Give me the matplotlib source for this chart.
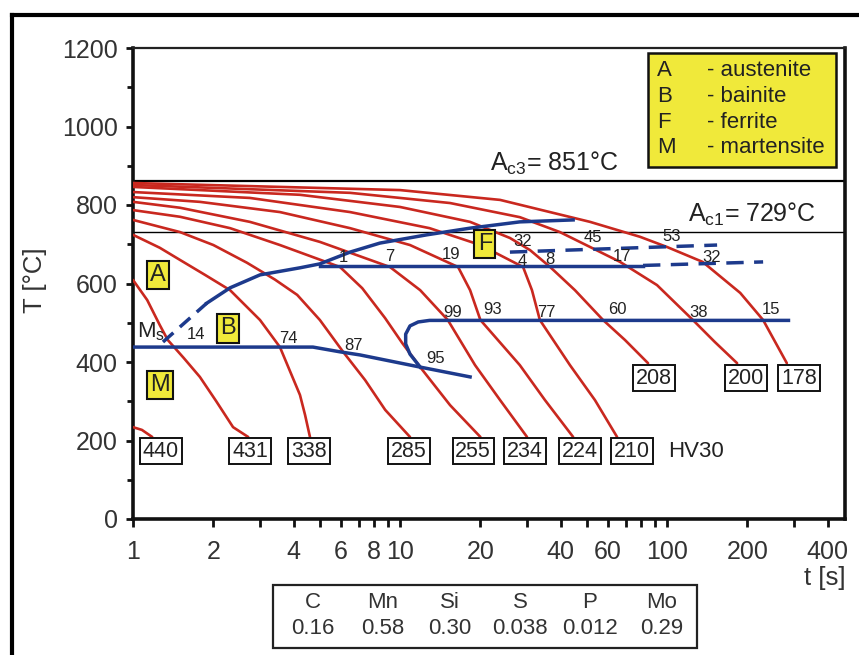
import numpy as np
import matplotlib
matplotlib.use("Agg")
import matplotlib.pyplot as plt
from matplotlib.patches import Rectangle
from matplotlib.lines import Line2D

plt.rcParams['font.family'] = ['Liberation Sans', 'DejaVu Sans']
plt.rcParams['mathtext.fontset'] = 'custom'
plt.rcParams['mathtext.rm'] = 'Liberation Sans'
plt.rcParams['mathtext.it'] = 'Liberation Sans'

# ---------------- data ----------------
# cooling curves: time [s] and temperature [°C]; named by final hardness HV30
t_hv440 = [1.0, 1.08, 1.18]
T_hv440 = [234, 227, 209]
t_hv431 = [1.0, 1.13, 1.26, 1.35, 1.55, 1.78, 2.05, 2.37, 2.70]
T_hv431 = [609, 558, 494, 456, 410, 362, 300, 234, 209]
t_hv338 = [1.0, 1.26, 1.50, 1.86, 2.31, 2.99, 3.55, 4.22, 4.41, 4.60]
T_hv338 = [724, 691, 660, 622, 583, 507, 438, 316, 265, 209]
t_hv285 = [1.0, 1.5, 2.0, 2.67, 3.4, 4.12, 5.01, 6.12, 7.4, 8.8, 10.9]
T_hv285 = [762, 731, 698, 653, 610, 571, 507, 426, 354, 278, 209]
t_hv255 = [1.0, 1.50, 2.31, 3.55, 5.96, 7.22, 8.79, 10.2, 11.9, 15.4, 20.0]
T_hv255 = [787, 770, 741, 698, 642, 588, 512, 448, 387, 290, 209]
t_hv234 = [1.0, 1.50, 2.74, 5.01, 9.17, 11.9, 15.1, 19.1, 23.7, 29.9]
T_hv234 = [808, 793, 757, 706, 642, 583, 507, 392, 303, 209]
t_hv224 = [1.0, 1.78, 3.55, 6.50, 10.9, 16.5, 18.3, 20.0, 28.1, 34.9, 44.5]
T_hv224 = [820, 808, 782, 741, 698, 642, 583, 507, 392, 303, 209]
t_hv210 = [1.0, 2.74, 6.50, 12.9, 20.0, 28.9, 31.2, 33.4, 43.3, 53.7, 65.0]
T_hv210 = [833, 818, 782, 741, 698, 642, 583, 507, 392, 303, 209]
t_hv208 = [1.0, 4.22, 10.0, 18.3, 25.8, 30.7, 36.5, 45.2, 57.6, 69.6, 84.9]
T_hv208 = [846, 826, 795, 757, 716, 685, 642, 583, 507, 456, 397]
t_hv200 = [1.0, 6.50, 15.4, 28.1, 39.7, 51.5, 66.7, 91.7, 125, 151, 183]
T_hv200 = [851, 831, 805, 769, 731, 693, 655, 596, 507, 451, 397]
t_hv178 = [1.0, 10.0, 23.7, 51.5, 79.2, 100, 136, 188, 229, 281]
T_hv178 = [856, 838, 813, 757, 719, 693, 655, 576, 507, 397]

# transformation lines
t_fstart_dash = [1.295, 1.89]
T_fstart_dash = [451, 550]
t_fstart = [1.89, 2.31, 2.99, 4.22, 5.01, 6.50, 8.41, 12.6, 18.3, 28.1, 44.5]
T_fstart = [550, 589, 622, 640, 650, 680, 703, 724, 741, 757, 762]
t_ffinish = [5.0, 81.3]
T_ffinish = [645, 645]
t_ffinish_dash = [81.3, 229]
T_ffinish_dash = [646, 655]
t_pstart_dash = [25.8, 154]
T_pstart_dash = [680, 698]
t_bainite = [285, 12.9, 11.7, 10.9, 10.5, 10.5, 10.9, 11.9]
T_bainite = [506, 506, 502, 492, 471, 446, 420, 387]
t_ms = [1.0, 4.72, 5.95, 7.08, 11.9, 18.3]
T_ms = [438, 438, 426, 418, 387, 362]

AC3_LINE = 862
AC1_LINE = 731

hardness = ['440', '431', '338', '285', '255', '234', '224', '210', '208', '200', '178']
percent_labels = ['14', '74', '87', '95', '1', '7', '19', '32', '4', '8', '45', '17', '53', '32',
                  '99', '93', '77', '60', '38', '15']

comp_elements = ['C', 'Mn', 'Si', 'S', 'P', 'Mo']
comp_values = ['0.16', '0.58', '0.30', '0.038', '0.012', '0.29']

legend_letters = ['A', 'B', 'F', 'M']
legend_names = ['- austenite', '- bainite', '- ferrite', '- martensite']

x_ticks = [1, 2, 4, 6, 8, 10, 20, 40, 60, 100, 200, 400]
x_minor = [3, 5, 7, 9, 30, 50, 70, 80, 90, 300]
y_ticks = [0, 200, 400, 600, 800, 1000, 1200]

# ---------------- layout / style ----------------
RED = '#c9281f'
BLUE = '#1d3a8c'
YELLOW = '#f0e93a'
TXT = '#222222'

W, H = 859, 655
fig = plt.figure(figsize=(W / 100, H / 100), dpi=100)
ax = fig.add_axes([133 / W, 1 - 519 / H, (845 - 133) / W, (519 - 48) / H])
ax.set_xscale('log')
ax.set_xlim(1, 464)
ax.set_ylim(0, 1200)

# red cooling curves
curves = [(t_hv440, T_hv440), (t_hv431, T_hv431), (t_hv338, T_hv338), (t_hv285, T_hv285),
          (t_hv255, T_hv255), (t_hv234, T_hv234), (t_hv224, T_hv224), (t_hv210, T_hv210),
          (t_hv208, T_hv208), (t_hv200, T_hv200), (t_hv178, T_hv178)]
for tt, TT in curves:
    ax.plot(tt, TT, color=RED, lw=1.9, solid_capstyle='round', solid_joinstyle='round', zorder=3)

# Ac lines
ax.axhline(AC3_LINE, color='black', lw=1.6, zorder=2)
ax.axhline(AC1_LINE, color='black', lw=1.0, zorder=2)

# blue transformation lines
blw = 2.5
ax.plot(t_fstart, T_fstart, color=BLUE, lw=blw, zorder=4, solid_joinstyle='round')
ax.plot(t_fstart_dash, T_fstart_dash, color=BLUE, lw=blw, ls=(0, (4, 2.5)), zorder=4)
ax.plot(t_ffinish, T_ffinish, color=BLUE, lw=blw, zorder=4)
ax.plot(t_ffinish_dash, T_ffinish_dash, color=BLUE, lw=blw, ls=(0, (5, 3)), zorder=4)
ax.plot(t_pstart_dash, T_pstart_dash, color=BLUE, lw=blw, ls=(0, (5, 3)), zorder=4)
ax.plot(t_bainite, T_bainite, color=BLUE, lw=blw, zorder=4, solid_joinstyle='round')
ax.plot(t_ms, T_ms, color=BLUE, lw=blw, zorder=4, solid_joinstyle='round')

# hardness boxes
hv_pos = [(1.273, 173), (2.74, 173), (4.56, 173), (10.8, 173), (18.8, 173), (29.4, 173),
          (47.2, 173), (73.9, 173), (89.4, 359), (198, 359), (312, 359)]
for lab, (tx, ty) in zip(hardness, hv_pos):
    ax.text(tx, ty, lab, ha='center', va='center', fontsize=15.5, color=TXT, zorder=6,
            bbox=dict(boxstyle='square,pad=0.13', fc='white', ec='#111111', lw=1.4))
ax.text(100.9, 173, 'HV30', ha='left', va='center', fontsize=16, color=TXT, zorder=6)

# percentage labels
pct_pos = [(1.72, 469), (3.81, 461), (6.67, 443), (13.6, 410), (6.12, 665), (9.17, 668),
           (15.5, 673), (28.9, 706), (28.7, 657), (36.5, 660), (52.8, 716), (67.8, 668),
           (104.4, 719), (147.4, 665), (15.7, 525), (22.3, 533), (35.2, 527), (65.0, 533),
           (131.8, 527), (245, 533)]
for lab, (tx, ty) in zip(percent_labels, pct_pos):
    ax.text(tx, ty, lab, ha='center', va='center', fontsize=12, color=TXT, zorder=6)

# phase boxes
phase_pos = {'A': (1.24, 622), 'B': (2.27, 486), 'M': (1.262, 341), 'F': (20.8, 701)}
for lab, (tx, ty) in phase_pos.items():
    ax.text(tx, ty, lab, ha='center', va='center', fontsize=17, color=TXT, zorder=7,
            bbox=dict(boxstyle='square,pad=0.14', fc=YELLOW, ec='#111111', lw=1.5))

# Ms label
ax.text(1.035, 476, r'M$_{\rm s}$', ha='left', va='center', fontsize=16, color=TXT, zorder=6)

# Ac annotations
ax.text(21.7, 907, r'A$_{\rm c3}$= 851°C', ha='left', va='center', fontsize=18, color=TXT)
ax.text(119.8, 777, r'A$_{\rm c1}$= 729°C', ha='left', va='center', fontsize=18, color=TXT)

# legend box
lx0, lx1 = (648 - 133) / 712, (836 - 133) / 712
ly0, ly1 = (519 - 167) / 471, (519 - 53) / 471
ax.add_patch(Rectangle((lx0, ly0), lx1 - lx0, ly1 - ly0, transform=ax.transAxes,
                       fc=YELLOW, ec='#111111', lw=1.8, zorder=8))
row_y = [0.9512, 0.8960, 0.8408, 0.7877]
for letter, name, yy in zip(legend_letters, legend_names, row_y):
    ax.text(0.7360, yy, letter, transform=ax.transAxes, ha='left', va='center',
            fontsize=16, color=TXT, zorder=9)
    ax.text(0.8062, yy, name, transform=ax.transAxes, ha='left', va='center',
            fontsize=16, color=TXT, zorder=9)

# axes styling
ax.set_xticks(x_ticks)
ax.set_xticklabels([str(v) for v in x_ticks])
ax.set_xticks(x_minor, minor=True)
ax.xaxis.set_minor_formatter(matplotlib.ticker.NullFormatter())
ax.set_yticks(y_ticks)
ax.set_yticklabels([str(v) for v in y_ticks])
ax.set_yticks([100, 300, 500, 700, 900, 1100], minor=True)
ax.tick_params(axis='both', which='both', direction='out', width=2, color='#111111',
               labelsize=18, labelcolor='#333333')
ax.tick_params(axis='x', which='both', length=6, pad=9)
ax.tick_params(axis='y', which='major', length=5, pad=6)
ax.tick_params(axis='y', which='minor', length=4)
for side in ['left', 'bottom', 'right']:
    ax.spines[side].set_linewidth(2.6)
    ax.spines[side].set_color('#111111')
ax.spines['top'].set_linewidth(1.6)
ax.spines['top'].set_color('#222222')

fig.text(35 / W, 1 - 280 / H, 'T [°C]', rotation=90, ha='center', va='center',
         fontsize=18.5, color='#333333')
fig.text(825 / W, 1 - 578 / H, 't [s]', ha='center', va='center', fontsize=18.5, color='#333333')

# composition table
fig.add_artist(Rectangle((273 / W, 1 - 648 / H), 424 / W, 63 / H, transform=fig.transFigure,
                         fc='white', ec='#222222', lw=1.6))
col_x = [313, 383, 450, 520, 590, 662]
for el, val, cx in zip(comp_elements, comp_values, col_x):
    fig.text(cx / W, 1 - 603 / H, el, ha='center', va='center', fontsize=16, color='#333333')
    fig.text(cx / W, 1 - 628 / H, val, ha='center', va='center', fontsize=16, color='#333333')

# outer frame
fig.add_artist(Line2D([12 / W, 12 / W], [0, 1 - 15 / H], transform=fig.transFigure,
                      color='black', lw=3))
fig.add_artist(Line2D([12 / W, 1], [1 - 15 / H, 1 - 15 / H], transform=fig.transFigure,
                      color='black', lw=3))

fig.savefig('out.png', dpi=100)
